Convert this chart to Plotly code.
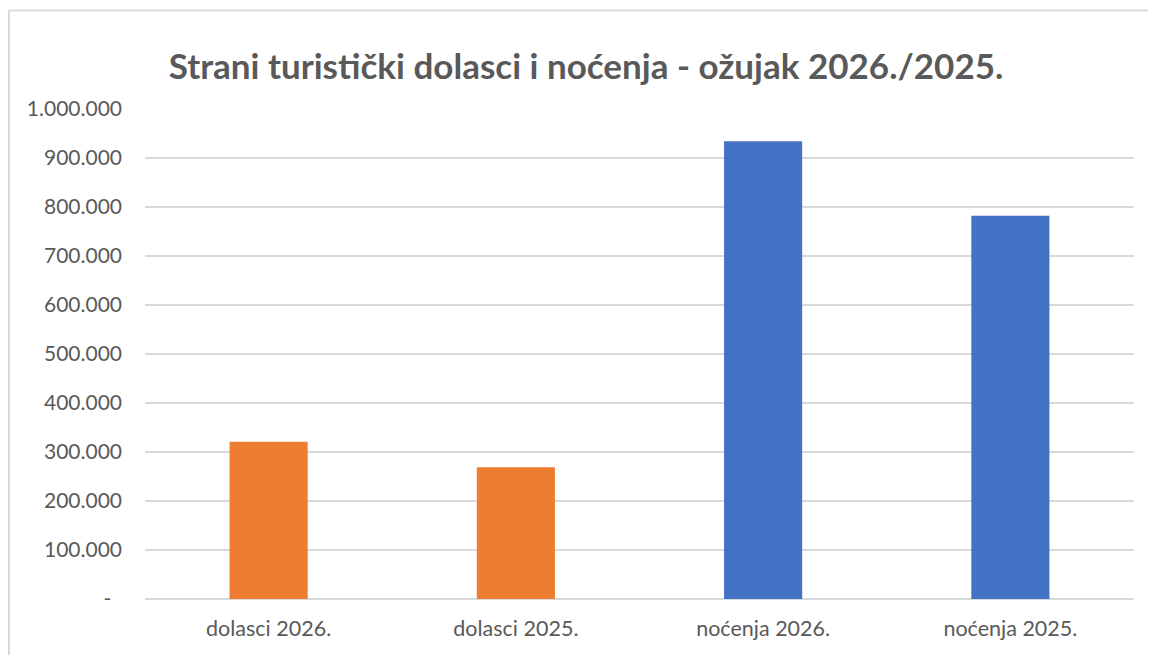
import plotly.graph_objects as go

categories = ["dolasci 2026.", "dolasci 2025.", "noćenja 2026.", "noćenja 2025."]
values = [321000, 269000, 934000, 782000]
bar_colors = ["#ED7D31", "#ED7D31", "#4472C4", "#4472C4"]
tick_values = [0, 100000, 200000, 300000, 400000, 500000, 600000, 700000, 800000, 900000, 1000000]
title_text = "Strani turistički dolasci i noćenja - ožujak 2026./2025."


def fmt(v):
    if v == 0:
        return "-\u00a0\u00a0"
    return f"{v:,}".replace(",", ".")


tick_text = [fmt(v) for v in tick_values]

FONT = "Lato, 'Open Sans', sans-serif"
TEXT = "#595959"

# page body has an 8px margin, so the figure is sized/offset to compensate
W, H = 1148, 647
L, R, T, B = 137, 22, 101, 56

fig = go.Figure(
    go.Bar(
        x=categories,
        y=values,
        marker=dict(color=bar_colors, line=dict(width=0)),
        width=0.316,
        hoverinfo="x+y",
    )
)

plot_w = W - L - R
plot_h = H - T - B

bx = (1 - L) / plot_w
by = (plot_h + T - 2.5) / plot_h
frame = dict(color="#D9D9D9", width=2)

fig.update_layout(
    width=W,
    height=H,
    paper_bgcolor="white",
    plot_bgcolor="white",
    margin=dict(l=L, r=R, t=T, b=B),
    showlegend=False,
    font=dict(family=FONT, color=TEXT, size=21),
    title=dict(
        text=f"<b>{title_text}</b>",
        font=dict(family=FONT, size=35, color=TEXT),
        xref="container",
        yref="container",
        x=0.5035,
        y=1 - 59 / H,
        xanchor="center",
        yanchor="middle",
    ),
    shapes=[
        dict(type="line", xref="paper", yref="paper", x0=bx, x1=1.1, y0=by, y1=by, line=frame, layer="below"),
        dict(type="line", xref="paper", yref="paper", x0=bx, x1=bx, y0=by, y1=-0.2, line=frame, layer="below"),
    ],
)

fig.update_xaxes(
    showgrid=False,
    showline=False,
    zeroline=False,
    ticks="",
    tickfont=dict(family=FONT, size=21.5, color=TEXT),
    ticklabelstandoff=14,
)

fig.update_yaxes(
    range=[0, 1000000],
    tickvals=tick_values,
    ticktext=tick_text,
    showgrid=True,
    gridcolor="#D9D9D9",
    gridwidth=1.5,
    zeroline=True,
    zerolinecolor="#D9D9D9",
    zerolinewidth=1.5,
    showline=False,
    ticks="",
    tickfont=dict(family=FONT, size=21, color=TEXT),
    ticklabelstandoff=22,
)

fig.write_html("out.html")
